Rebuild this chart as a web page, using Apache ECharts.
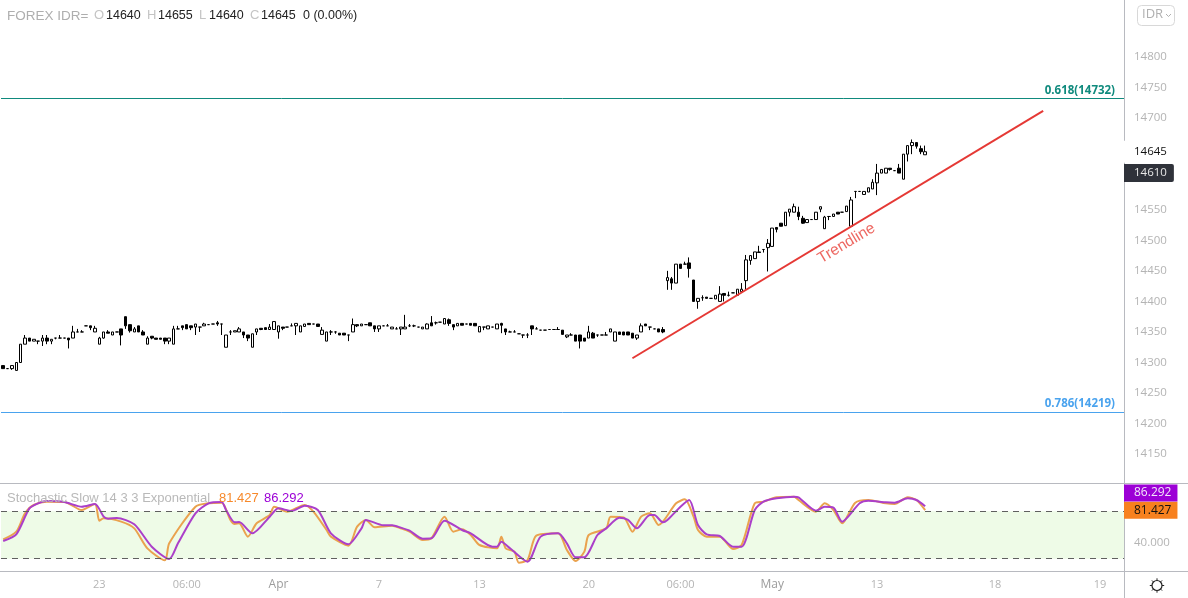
<!DOCTYPE html>
<html><head><meta charset="utf-8">
<style>html,body{margin:0;padding:0;background:#fff}#c{width:1188px;height:598px}</style>
<script src="https://cdn.jsdelivr.net/npm/echarts@6/dist/echarts.min.js"></script>
</head><body><div id="c"></div>
<script>
// [open, close, low, high]; [open, close] = no wicks; [price] = flat
const candleRows = [
[14295,14290],[14290],[14290,14295,14288,14295],[14287,14300],[14300,14330],[14330,14340,14330,14345],[14340,14335],[14335,14338],[14335,14335,14330,14335],[14335,14340,14327,14345],
[14340,14335,14330,14345],[14335,14338,14330,14338],[14340,14340,14338,14340],[14340,14340,14340,14345],[14340],[14340,14337,14323,14340],[14340,14350,14340,14360],[14350,14350,14350,14355],[14350,14350,14350,14353],[14360],
[14360,14357,14353,14360],[14350,14356,14350,14360],[14330,14340,14330,14342],[14340,14350,14339,14350],[14350,14348,14348,14353],[14345,14350],[14350],[14355,14345,14328,14355],[14375,14360,14355,14375],[14362,14352,14349,14362],
[14350,14355,14350,14358],[14360,14350],[14350,14345,14345,14353],[14330,14340,14330,14343],[14343,14340,14338,14343],[14340,14338],[14340,14338],[14340,14335,14330,14340],[14335,14340,14330,14340],[14330,14355,14330,14360],
[14355,14355,14355,14360],[14360,14357,14353,14360],[14362,14355],[14360,14357,14353,14360],[14358,14363,14345,14363],[14358,14358,14350,14358],[14360,14363,14360,14365],[14362],[14363],[14365,14363,14360,14368],
[14363,14363,14345,14363],[14325,14345],[14350,14350,14345,14353],[14350,14352],[14350,14355,14350,14358],[14350,14345,14340,14350],[14345,14340,14335,14345],[14325,14347],[14350,14355,14345,14355],[14356,14354,14353,14356],
[14357,14354],[14354,14358,14354,14363],[14354,14367],[14350,14360,14339,14360],[14358,14356,14353,14358],[14358],[14360,14360,14360,14364],[14360,14364,14345,14364],[14350,14360],[14359,14363],
[14364,14362],[14363],[14363,14359],[14346,14353,14346,14358],[14335,14350],[14350,14350,14345,14353],[14350,14350,14347,14351],
[14348,14345],[14348,14345],[14345,14345,14335,14345],[14350,14362,14350,14372],[14362,14360,14358,14362],[14360,14363],[14362],[14365,14360],[14360,14355,14350,14360],[14355,14360,14350,14360],[14360],
[14360,14360,14360,14363],[14355,14358],[14355,14355,14355,14358],[14355,14358,14345,14358],[14355,14358,14355,14378],[14360,14360,14358,14363],[14360,14360,14358,14362],[14358],[14355,14358],[14355,14363,14355,14364],
[14365,14360,14360,14376],[14365,14365,14362,14367],[14366],[14363,14372],[14370,14364,14360,14372],[14362,14358,14353,14362],[14360,14364],[14364,14361],[14363],[14364,14361],
[14364,14360],[14350,14359],[14358,14358,14353,14358],[14355,14360],[14358],[14355,14363],[14364,14361,14348,14365],[14355,14350,14345,14355],[14350,14350,14350,14352],[14350,14350,14350,14353],
[14347],[14345,14345,14340,14345],[14345,14345,14340,14348],[14360,14355,14345,14360],[14355,14355,14355,14358],[14353],[14353],[14354],[14354],[14354,14354,14354,14358],
[14353,14346],[14342,14345,14340,14345],[14345,14345,14345,14348],[14345,14335],[14345,14335,14323,14345],[14340,14335],[14340,14350,14340,14360],[14348,14340,14340,14350],[14345,14345,14342,14345],[14345],
[14345,14345,14345,14350],[14350,14355],[14335,14350],[14350,14346,14345,14350],[14350,14345],[14350,14345],[14348,14340],[14340,14345,14337,14345],[14350,14360,14350,14364],[14363,14360],
[14358,14358,14353,14358],[14355],[14355,14350],[14354,14350,14348,14358],
[14434,14439,14419,14450],[14437,14430,14419,14440],[14430,14461],[14461,14454],[14461,14461,14461,14465],[14463,14454,14439,14472],[14435,14400],[14400,14405,14388,14405],[14406,14406,14401,14410],[14407,14405],
[14405],[14404,14410],[14400,14412,14400,14425],[14413,14410,14400,14413],[14410,14410,14408,14416],[14414],[14410,14420],[14416,14420,14416,14430],[14434,14468,14419,14476],[14467,14475,14460,14475],
[14470,14481],[14481,14480,14480,14491],[14485,14485,14480,14485],[14488,14495,14449,14502],[14490,14520],[14521,14518,14513,14521],[14528,14523],[14524,14546],[14546,14551,14539,14551],[14546,14555,14546,14560],[14546,14539,14533,14555],
[14536,14528,14527,14540],[14529,14534],[14534],[14534,14546],[14551,14555,14546,14555],[14519,14538,14519,14540],[14539,14539,14533,14539],[14539,14543],[14546,14543],[14546],
[14547,14556],[14523,14566,14523,14571],[14580,14580,14569,14580],[14580],[14575,14580],[14579,14586],[14584,14595,14584,14600],[14594,14610,14574,14625],[14610,14616],[14610,14618],
[14618,14616,14614,14618],[14614],[14618,14610,14610,14625],[14600,14641],[14641,14655,14629,14655],[14655,14660,14641,14665],[14660,14654,14650,14660],[14650,14645,14641,14655],[14640,14645,14640,14655]
];
const slotCount = 257;
const categories = Array.from({length: slotCount}, (_, i) => String(i));
const xTickLabels = {22:'23',42:'06:00',63:'Apr',86:'7',109:'13',134:'20',155:'06:00',176:'May',200:'13',227:'18',251:'19'};
const priceTicks = [14800,14750,14700,14550,14500,14450,14400,14350,14300,14250,14200,14150];
const priceTags = [14645,14610];
const fibLevels = [{ratio:'0.618',price:14732,color:'#0f8a7d'},{ratio:'0.786',price:14219,color:'#4aa3ee'}];
const trendline = [[144,14307],[238,14712]];
const trendlineLabelAt = [193,14495];
const stochK = [[0,44.5],[3,54.2],[5,77.4],[7,88],[10,92.2],[14,91.8],[18,81.6],[21,89.2],[22,68.1],[23,71.1],[27,66.9],[30,58.4],[33,33.1],[37,17.9],[38,39.4],[44,85.8],[47,90.1],[50,90.9],[52,69],[53,63.9],[54,64.8],[56,47.9],[58,64.8],[61,75.3],[62,85.8],[65,79.5],[69,88],[71,79.5],[74,56.3],[75,47.9],[79,36.5],[81,60.5],[83,69],[85,59.7],[89,61.8],[91,58.4],[93,54.2],[96,43.7],[98,45.8],[101,73.2],[103,54.2],[105,57.2],[107,50],[109,37.3],[113,33.1],[114,47.9],[115,33.1],[117,28.9],[118,15],[120,18.3],[122,49.1],[127,52.1],[129,31],[131,17.1],[133,28.9],[134,50],[138,58.4],[139,73.2],[142,72.3],[144,54.2],[146,73.2],[148,77.4],[150,62.6],[154,90.1],[156,95.1],[158,73.2],[159,56.3],[161,47.9],[164,47.9],[167,32.3],[169,37.3],[172,90.1],[174,92.2],[177,97.7],[181,98.5],[182,94.3],[186,79.5],[188,90.1],[190,81.6],[192,64.8],[195,90.9],[198,94.3],[202,90.1],[204,89.2],[207,97.7],[209,94.3],[211,81.427]];
const stochD = [[0,42.4],[3,50.8],[6,83.7],[8,90.1],[10,93],[14,91.8],[18,85.8],[21,89.2],[23,73.2],[24,70.7],[26,71.5],[30,63.5],[34,35.2],[38,19.6],[40,39.4],[44,77.4],[47,90.1],[50,91.8],[51,81.6],[53,66],[54,66.4],[57,52.1],[61,73.2],[63,83.7],[66,80.4],[69,87.1],[72,81.6],[75,52.1],[79,38.2],[82,58.4],[83,69],[87,62.2],[89,62.2],[91,59.3],[93,55.5],[96,45.3],[98,45.8],[101,68.1],[105,56.3],[107,52.1],[112,35.2],[113,35.2],[114,41.5],[116,33.1],[120,16.2],[123,47.9],[127,52.1],[129,39.4],[131,21.7],[133,21.7],[136,50],[138,58.4],[141,71.9],[143,69],[145,58.4],[148,75.3],[149,75.3],[151,66],[152,69],[155,85.8],[157,94.3],[159,62.6],[161,50.8],[164,48.7],[167,35.2],[169,35.2],[172,81.6],[174,92.2],[177,96.4],[181,98.5],[182,97.7],[186,80.8],[188,85.8],[190,84.6],[192,66.9],[196,90.1],[198,93.4],[202,91.3],[204,90.9],[207,96.4],[209,94.3],[211,86.292]];
const stochBand = [20,80];
const stochTickLabels = [40];
const lastK = '81.427', lastD = '86.292';
// the %D tag sits above the %K tag, where it was pushed to avoid overlap
const stochTagSlots = {[lastK]:81.427,[lastD]:103.2};

const GREY='#b4b4b4', FRAME='#b8bac0', LABEL_FONT='"Open Sans"', HEAD_FONT='"Liberation Sans"';
const candles = candleRows.map(r => r.length===1 ? [r[0],r[0],r[0],r[0]] : r.length===2 ? [r[0],r[1],Math.min(r[0],r[1]),Math.max(r[0],r[1])] : r);

const headerItems = [
 ['FOREX IDR=',7,13.5,'#aeaeae'],['O',94,13,'#c4c4c4'],['14640',106,12.5,'#222'],['H',147,13,'#c4c4c4'],['14655',158,12.5,'#222'],
 ['L',199,13,'#c4c4c4'],['14640',209,12.5,'#222'],['C',250,13,'#c4c4c4'],['14645',261,12.5,'#222'],['0 (0.00%)',303,12.5,'#222']];
const graphics = headerItems.map(h => ({type:'text',left:h[1],top:9,z:20,style:{text:h[0],fill:h[3],font:`${h[2]}px ${HEAD_FONT}`}}));
graphics.push(
 {type:'text',left:7,top:492,z:20,style:{text:'Stochastic Slow 14 3 3 Exponential',fill:'#b9b9b9',font:`13px ${HEAD_FONT}`}},
 {type:'text',left:219,top:492,z:20,style:{text:lastK,fill:'#f7892b',font:`13px ${HEAD_FONT}`}},
 {type:'text',left:264,top:492,z:20,style:{text:lastD,fill:'#9c00d6',font:`13px ${HEAD_FONT}`}},
 {type:'line',z:-1,shape:{x1:1124.5,y1:0,x2:1124.5,y2:598},style:{stroke:FRAME,lineWidth:1}},
 {type:'line',z:-1,shape:{x1:0,y1:483.5,x2:1188,y2:483.5},style:{stroke:FRAME,lineWidth:1}},
 {type:'line',z:-1,shape:{x1:0,y1:571.5,x2:1188,y2:571.5},style:{stroke:FRAME,lineWidth:1}},
 {type:'rect',shape:{x:1137.5,y:5.5,width:37,height:20,r:4},style:{fill:'#fff',stroke:'#d8d8d8',lineWidth:1}},
 {type:'text',left:1142,top:8,z:20,style:{text:'IDR',fill:'#b0b0b0',font:`13px ${LABEL_FONT}`}},
 {type:'polyline',shape:{points:[[1166,14],[1168.5,16.5],[1171,14]]},style:{stroke:'#b0b0b0',fill:null,lineWidth:1}},
 {type:'circle',shape:{cx:1157,cy:585.5,r:5},style:{fill:'#fff',stroke:'#222',lineWidth:1.2}}
);
for (let a=0;a<8;a++){const c=Math.cos(a*Math.PI/4),s=Math.sin(a*Math.PI/4);
 graphics.push({type:'line',shape:{x1:1157+5*c,y1:585.5+5*s,x2:1157+7.2*c,y2:585.5+7.2*s},style:{stroke:'#222',lineWidth:1}});}

const priceMin=14102.8, priceMax=14893.3, stochMin=4.4, stochMax=115.8;
const chart = echarts.init(document.getElementById('c'),null,{renderer:'canvas'});
chart.setOption({
 animation:false,
 graphic:{elements:graphics},
 grid:[{left:1,top:0,width:1123,height:483},{left:1,top:483,width:1123,height:88}],
 xAxis:[
  {type:'category',gridIndex:0,data:categories,show:false,boundaryGap:true},
  {type:'category',gridIndex:1,data:categories,boundaryGap:true,axisLine:{show:false},axisTick:{show:false},splitLine:{show:false},
   axisLabel:{interval:i=>xTickLabels[i]!=null,formatter:(v,i)=>{const t=xTickLabels[i];return (t==='Apr'||t==='May')?`{m|${t}}`:(t||'');},
    color:GREY,fontSize:11,fontFamily:LABEL_FONT,margin:8,rich:{m:{color:'#9c9c9c',fontSize:12,fontFamily:LABEL_FONT}}}}
 ],
 yAxis:[
  {type:'value',gridIndex:0,position:'right',min:priceMin,max:priceMax,axisLine:{show:false},axisTick:{show:false},splitLine:{show:false},
   axisLabel:{customValues:priceTicks,formatter:v=>String(v),color:GREY,fontSize:11.5,fontFamily:LABEL_FONT,margin:10,showMinLabel:true,showMaxLabel:true}},
  {type:'value',gridIndex:0,position:'right',min:priceMin,max:priceMax,axisLine:{show:false},axisTick:{show:false},splitLine:{show:false},
   axisLabel:{customValues:priceTags,margin:0,showMinLabel:true,showMaxLabel:true,hideOverlap:false,
    formatter:v=>v===14610?`{d|${v}}`:`{w|${v}}`,
    rich:{d:{backgroundColor:'#2f323a',color:'#e8e8e8',fontSize:11.5,fontFamily:LABEL_FONT,padding:[3,7,3,10],borderRadius:[0,2,2,0]},
          w:{backgroundColor:'#fff',color:'#111',fontSize:11.5,fontFamily:LABEL_FONT,padding:[5,7,5,10]}}}},
  {type:'value',gridIndex:1,position:'right',min:stochMin,max:stochMax,axisLine:{show:false},axisTick:{show:false},splitLine:{show:false},
   axisLabel:{customValues:stochTickLabels,formatter:v=>v.toFixed(3),color:GREY,fontSize:11.5,fontFamily:LABEL_FONT,margin:10}},
  {type:'value',gridIndex:1,position:'right',min:stochMin,max:stochMax,axisLine:{show:false},axisTick:{show:false},splitLine:{show:false},
   axisLabel:{customValues:Object.values(stochTagSlots),margin:0,hideOverlap:false,
    formatter:v=>v===stochTagSlots[lastD]?`{p|${lastD}}`:`{o|${lastK}}`,
    rich:{p:{backgroundColor:'#9c00d6',color:'#f3e6fa',fontSize:12,lineHeight:12,fontFamily:LABEL_FONT,padding:[2.5,6,2.5,10]},
          o:{backgroundColor:'#f7811f',color:'#111',fontSize:12,lineHeight:12,fontFamily:LABEL_FONT,padding:[2.5,6,2.5,10]}}}}
 ],
 series:[
  {type:'candlestick',name:'price',xAxisIndex:0,yAxisIndex:0,data:candles,barWidth:3,
   itemStyle:{color:'#fff',color0:'#000',borderColor:'#000',borderColor0:'#000',borderColorDoji:'#000',borderWidth:1},
   markLine:{silent:true,symbol:'none',animation:false,
    data:fibLevels.map(f=>({yAxis:f.price,name:f.ratio,lineStyle:{color:f.color,width:1,type:'solid'},
     label:{show:true,position:'insideEndTop',distance:[9,2],formatter:`${f.ratio}(${f.price})`,color:f.color,fontSize:11.5,fontWeight:'bold',fontFamily:LABEL_FONT}}))}},
  {type:'line',name:'Trendline',xAxisIndex:0,yAxisIndex:0,data:trendline,symbol:'none',lineStyle:{color:'#e53935',width:2},silent:true},
  {type:'scatter',xAxisIndex:0,yAxisIndex:0,symbolSize:1,itemStyle:{color:'rgba(0,0,0,0)'},silent:true,
   data:[{value:trendlineLabelAt,name:'Trendline'}],
   label:{show:true,position:'inside',rotate:31,formatter:'{b}',color:'#e8413a',fontSize:15.5,fontFamily:HEAD_FONT}},
  {type:'line',name:'%K',xAxisIndex:1,yAxisIndex:2,data:stochK,symbol:'none',smooth:0.25,lineStyle:{color:'#eaa24e',width:2},z:3,silent:true,
   markArea:{silent:true,itemStyle:{color:'#eefbe7'},data:[[{yAxis:stochBand[0]},{yAxis:stochBand[1]}]]},
   markLine:{silent:true,symbol:'none',label:{show:false},lineStyle:{color:'#5f5f5f',width:1,type:[6,5]},data:stochBand.map(v=>({yAxis:v}))}},
  {type:'line',name:'%D',xAxisIndex:1,yAxisIndex:2,data:stochD,symbol:'none',smooth:0.25,lineStyle:{color:'#ab3fc9',width:2},z:4,silent:true}
 ]
});
</script></body></html>
